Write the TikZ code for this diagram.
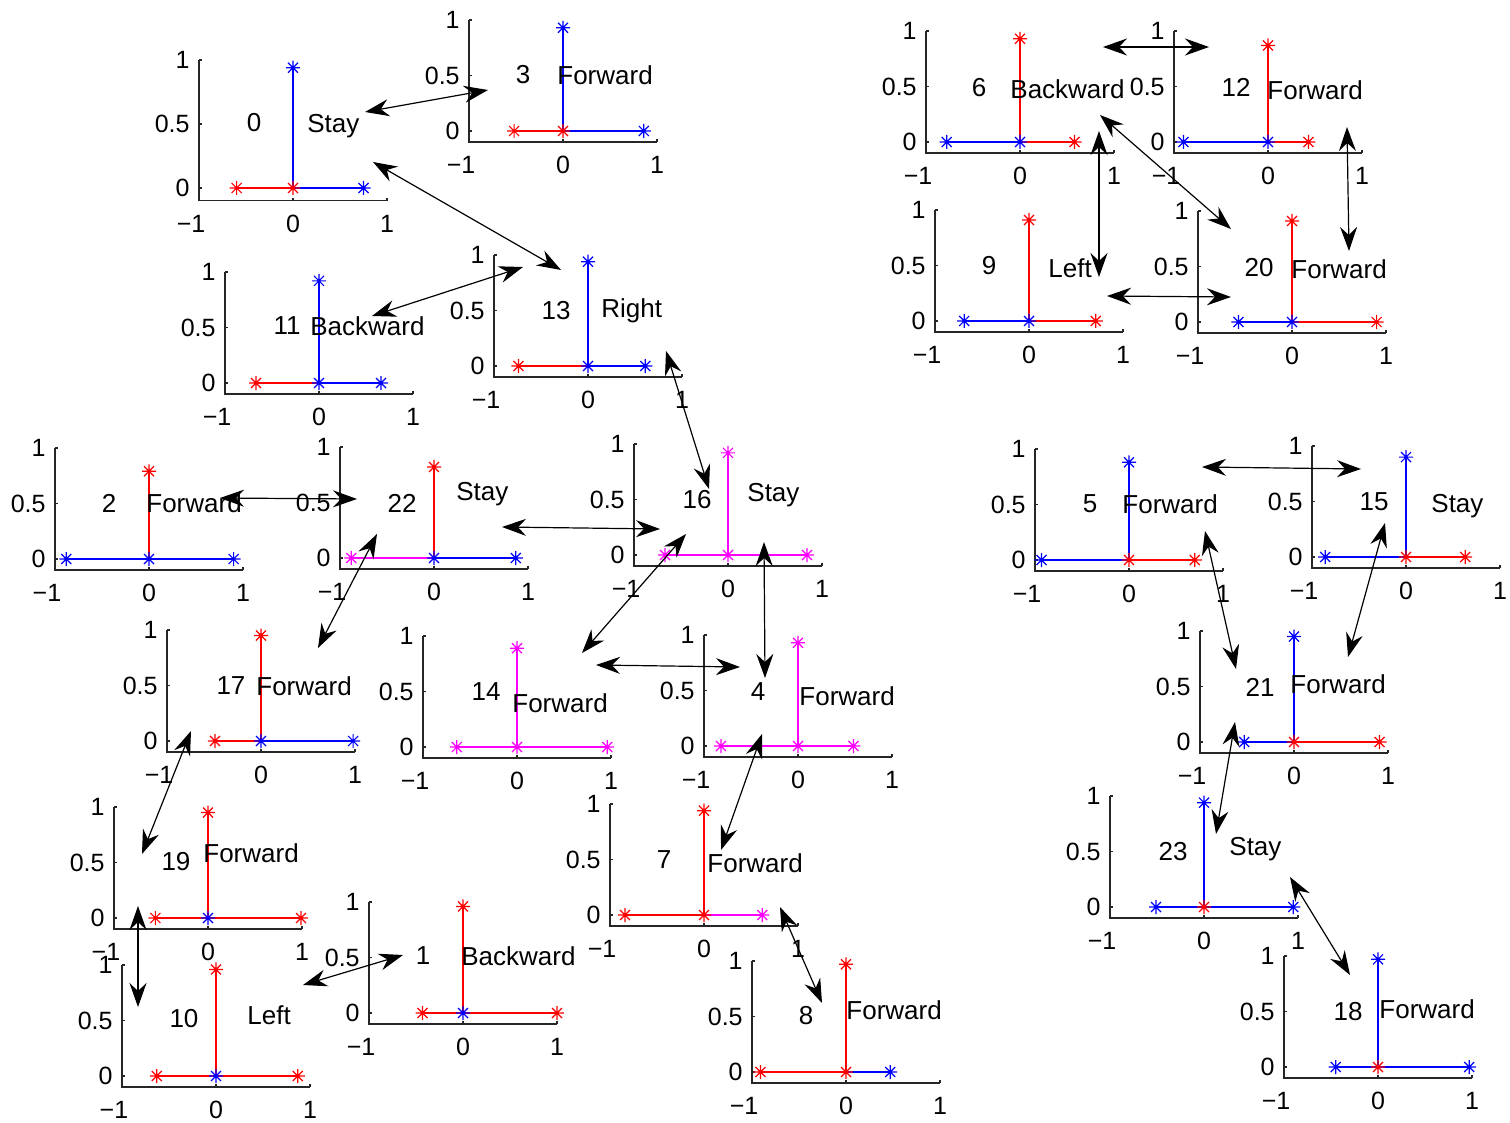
\documentclass[tikz,border=0pt]{standalone}
\usepackage{fontspec}
\setmainfont{Liberation Sans}
\usetikzlibrary{arrows.meta,positioning}
\definecolor{redclr}{RGB}{255,0,0}
\definecolor{blueclr}{RGB}{0,0,255}
\definecolor{magclr}{RGB}{255,0,255}
\tikzset{
  axln/.style={line width=0.65pt,black!85},
  ticklbl/.style={inner sep=0pt,font=\fontsize{12.5}{14}\selectfont},
  num/.style={inner sep=0pt},
  act/.style={inner sep=0pt,anchor=west},
  dataln/.style={line width=0.65pt},
  aster/.pic={\draw[line width=0.6pt] (-7,0) -- (7,0) (0,-7) -- (0,7)
              (-5,-5) -- (5,5) (-5,5) -- (5,-5);},
  link/.style={{Stealth[length=12pt,width=8.5pt,inset=4pt]}-{Stealth[length=12pt,width=8.5pt,inset=4pt]},
               line width=0.6pt},
}
% one small panel: #1 origin, #2 px per unit up, #3/#4 left end, #5/#6 right end,
% #7/#8 stem top, #9 centre mark
\newcommand{\panel}[9]{%
  \begin{scope}[shift={(#1)}]
    \draw[axln] (-94,{-#2}) -- (-94,{0.1*#2}) -- (94,{0.1*#2});
    \foreach \v in {0,0.5,1}
      \draw[axln] (-94,{-\v*#2}) -- ++(3,0);
    \foreach \u in {-1,0,1}
      \draw[axln] ({\u*94},{0.1*#2}) -- ++(0,-3);
    \node[ticklbl,anchor=east] (#1y0) at (-103,0) {0};
    \node[ticklbl,anchor=east] (#1y5) at (-103,{-0.5*#2}) {0.5};
    \node[ticklbl,anchor=east] (#1y1) at (-103,{-#2}) {1};
    \node[ticklbl] (#1xm) at (-102,{0.1*#2+23}) {−1};
    \node[ticklbl] (#1xz) at (0,{0.1*#2+23}) {0};
    \node[ticklbl] (#1xp) at (94,{0.1*#2+23}) {1};
    \draw[dataln,#4] ({#3*94},0) -- (0,0);
    \draw[dataln,#6] (0,0) -- ({#5*94},0);
    \draw[dataln,#8] (0,0) -- (0,{-#7*#2});
    \pic[#4] at ({#3*94},0) {aster};
    \pic[#6] at ({#5*94},0) {aster};
    \pic[#8] at (0,{-#7*#2}) {aster};
    \pic[#9] at (0,0) {aster};
  \end{scope}}

\begin{document}
\begin{tikzpicture}[x=0.5pt,y=-0.5pt,font=\fontsize{13}{15}\selectfont]
\useasboundingbox (0,0) rectangle (1510,1123);

% panels, top left group
\coordinate (o0) at (293,188);
\panel{o0}{128}{-0.6}{redclr}{0.75}{blueclr}{0.94}{blueclr}{redclr}
\node[num] (n0) at (254,123) {0};
\node[act] (a0) at (307,126) {Stay};
\coordinate (o3) at (563,131);
\panel{o3}{111}{-0.52}{redclr}{0.86}{blueclr}{0.93}{blueclr}{redclr}
\node[num] (n3) at (523,75) {3};
\node[act] (a3) at (557,75) {Forward};
\coordinate (o11) at (319,383);
\panel{o11}{111}{-0.67}{redclr}{0.66}{blueclr}{0.92}{blueclr}{blueclr}
\node[num] (n11) at (287,326) {11};
\node[act] (a11) at (310,326) {Backward};
\coordinate (o13) at (588,366);
\panel{o13}{111}{-0.74}{redclr}{0.61}{blueclr}{0.94}{blueclr}{blueclr}
\node[num] (n13) at (556,311) {13};
\node[act] (a13) at (601,311) {Right};

% top right group
\coordinate (o6) at (1020,142);
\panel{o6}{111}{-0.78}{blueclr}{0.58}{redclr}{0.93}{redclr}{blueclr}
\node[num] (n6) at (979,88) {6};
\node[act] (a6) at (1010,89) {Backward};
\coordinate (o12) at (1268,142);
\panel{o12}{111}{-0.9}{blueclr}{0.43}{redclr}{0.87}{redclr}{blueclr}
\node[num] (n12) at (1236,87) {12};
\node[act] (a12) at (1267,90) {Forward};
\coordinate (o9) at (1029,321);
\panel{o9}{111}{-0.69}{blueclr}{0.71}{redclr}{0.91}{redclr}{blueclr}
\node[num] (n9) at (989,266) {9};
\node[act] (a9) at (1048,268) {Left};
\coordinate (o20) at (1292,322);
\panel{o20}{111}{-0.57}{blueclr}{0.9}{redclr}{0.91}{redclr}{blueclr}
\node[num] (n20) at (1259,268) {20};
\node[act] (a20) at (1291,269) {Forward};

% middle rows
\coordinate (o2) at (149,559);
\panel{o2}{111}{-0.88}{blueclr}{0.9}{blueclr}{0.79}{redclr}{blueclr}
\node[num] (n2) at (109,503) {2};
\node[act] (a2) at (146,503) {Forward};
\coordinate (o22) at (434,558);
\panel{o22}{111}{-0.88}{magclr}{0.87}{blueclr}{0.82}{redclr}{blueclr}
\node[num] (n22) at (402,503) {22};
\node[act] (a22) at (456,494) {Stay};
\coordinate (o16) at (728,555);
\panel{o16}{111}{-0.67}{magclr}{0.84}{magclr}{0.92}{magclr}{magclr}
\node[num] (n16) at (697,500) {16};
\node[act] (a16) at (747,495) {Stay};
\coordinate (o17) at (261,741);
\panel{o17}{111}{-0.49}{redclr}{0.98}{blueclr}{0.95}{redclr}{blueclr}
\node[num] (n17) at (231,686) {17};
\node[act] (a17) at (256,686) {Forward};
\coordinate (o14) at (517,747);
\panel{o14}{111}{-0.64}{magclr}{0.96}{magclr}{0.89}{magclr}{magclr}
\node[num] (n14) at (486,692) {14};
\node[act] (a14) at (512,703) {Forward};
\coordinate (o4) at (798,746);
\panel{o4}{111}{-0.82}{magclr}{0.59}{magclr}{0.93}{magclr}{magclr}
\node[num] (n4) at (758,692) {4};
\node[act] (a4) at (799,696) {Forward};

% bottom rows
\coordinate (o19) at (208,918);
\panel{o19}{111}{-0.56}{redclr}{0.99}{redclr}{0.95}{redclr}{blueclr}
\node[num] (n19) at (176,862) {19};
\node[act] (a19) at (203,853) {Forward};
\coordinate (o10) at (216,1076);
\panel{o10}{111}{-0.63}{redclr}{0.87}{redclr}{0.96}{redclr}{blueclr}
\node[num] (n10) at (184,1019) {10};
\node[act] (a10) at (247,1015) {Left};
\coordinate (o1) at (463,1013);
\panel{o1}{111}{-0.43}{redclr}{1.0}{redclr}{0.96}{redclr}{blueclr}
\node[num] (n1) at (423,956) {1};
\node[act] (a1) at (461,956) {Backward};
\coordinate (o7) at (704,915);
\panel{o7}{111}{-0.84}{redclr}{0.62}{magclr}{0.94}{redclr}{redclr}
\node[num] (n7) at (664,860) {7};
\node[act] (a7) at (707,863) {Forward};
\coordinate (o8) at (846,1072);
\panel{o8}{111}{-0.91}{redclr}{0.47}{blueclr}{0.97}{redclr}{redclr}
\node[num] (n8) at (806,1016) {8};
\node[act] (a8) at (846,1010) {Forward};

% right column
\coordinate (o5) at (1129,560);
\panel{o5}{111}{-0.93}{blueclr}{0.7}{redclr}{0.88}{blueclr}{redclr}
\node[num] (n5) at (1090,504) {5};
\node[act] (a5) at (1122,504) {Forward};
\coordinate (o15) at (1406,557);
\panel{o15}{111}{-0.86}{blueclr}{0.63}{redclr}{0.9}{blueclr}{redclr}
\node[num] (n15) at (1374,502) {15};
\node[act] (a15) at (1431,506) {Stay};
\coordinate (o21) at (1294,742);
\panel{o21}{111}{-0.53}{blueclr}{0.91}{redclr}{0.95}{blueclr}{redclr}
\node[num] (n21) at (1260,687) {21};
\node[act] (a21) at (1290,684) {Forward};
\coordinate (o23) at (1204,907);
\panel{o23}{111}{-0.51}{blueclr}{0.95}{blueclr}{0.94}{blueclr}{redclr}
\node[num] (n23) at (1173,852) {23};
\node[act] (a23) at (1229,849) {Stay};
\coordinate (o18) at (1378,1067);
\panel{o18}{111}{-0.45}{blueclr}{0.97}{blueclr}{0.97}{blueclr}{redclr}
\node[num] (n18) at (1348,1012) {18};
\node[act] (a18) at (1379,1009) {Forward};

% transitions
\foreach \xa/\ya/\xb/\yb [count=\i] in {
  365/112/488/90, 373/162/561/270, 372/316/523/267, 666/351/709/489,
  1103/47/1209/47, 1099/131/1099/277, 1100/115/1231/229, 1347/127/1349/251,
  1107/296/1231/297, 220/498/357/499, 502/527/660/529, 377/534/318/648,
  686/534/582/653, 764/542/765/678, 596/665/740/667, 191/731/142/854,
  762/734/721/850, 1202/467/1361/469, 1205/531/1236/669, 1385/523/1348/657,
  1235/722/1216/834, 1290/877/1350/975, 138/906/138/1007, 303/985/403/955,
  780/907/822/1003} {
  \coordinate (s\i) at (\xa,\ya);
  \coordinate (t\i) at (\xb,\yb);
  \draw[link] (s\i) -- (t\i);
}
\end{tikzpicture}
\end{document}
